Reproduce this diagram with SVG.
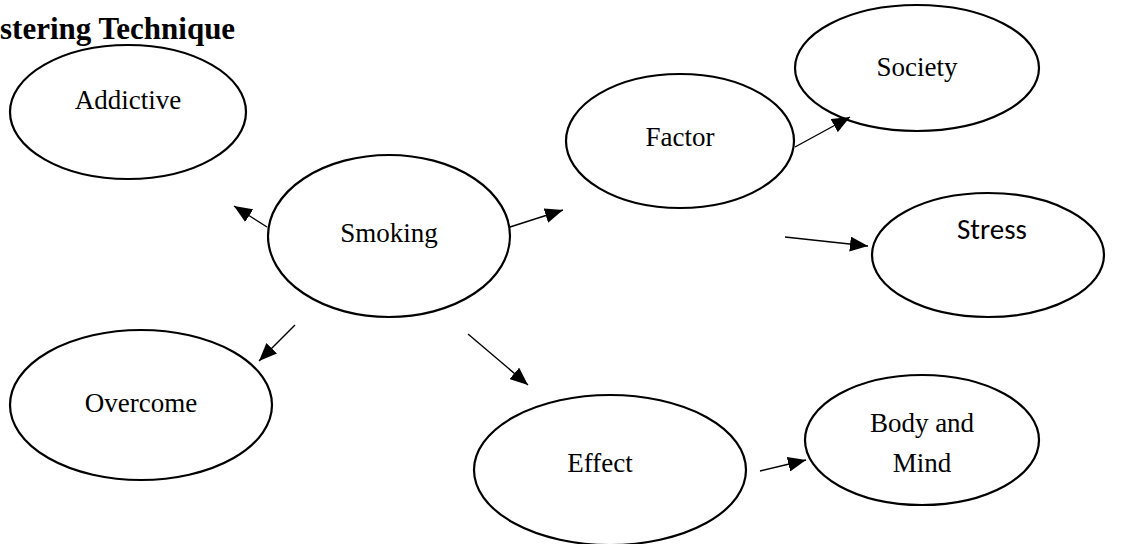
<svg xmlns="http://www.w3.org/2000/svg" width="1122" height="544" viewBox="0 0 1122 544">
<style>
.n ellipse{fill:#fff;stroke:#000;stroke-width:2.2}
.t{font-family:"Liberation Serif","Times New Roman",serif;font-size:27px;fill:#000;text-anchor:middle}
.s{font-family:Carlito,"Liberation Sans",Arial,sans-serif;font-size:29px;fill:#000;text-anchor:middle}
.c line{stroke:#000;stroke-width:1.4;marker-end:url(#ah)}
</style>
<defs>
<marker id="ah" markerUnits="userSpaceOnUse" markerWidth="19" markerHeight="15" refX="18" refY="7.5" orient="auto"><path d="M0,0 L18,7.5 L0,15 z" fill="#000"/></marker>
</defs>
<rect width="1122" height="544" fill="#fff"/>
<text x="0" y="39" style="font-family:'Liberation Serif','Times New Roman',serif;font-size:31px;font-weight:bold">stering Technique</text>
<g id="addictive" class="n"><ellipse cx="128" cy="112" rx="118" ry="67"/><text class="t" x="128" y="109">Addictive</text></g>
<g id="smoking" class="n"><ellipse cx="389" cy="236" rx="121" ry="81"/><text class="t" x="389" y="242">Smoking</text></g>
<g id="factor" class="n"><ellipse cx="680" cy="141" rx="114" ry="67"/><text class="t" x="680" y="146">Factor</text></g>
<g id="society" class="n"><ellipse cx="917" cy="68" rx="122" ry="63"/><text class="t" x="917" y="76">Society</text></g>
<g id="stress" class="n"><ellipse cx="988" cy="255" rx="116" ry="62"/><text class="s" x="992" y="239">Stress</text></g>
<g id="overcome" class="n"><ellipse cx="141" cy="405" rx="131" ry="75"/><text class="t" x="141" y="412">Overcome</text></g>
<g id="effect" class="n"><ellipse cx="610" cy="470" rx="136" ry="75"/><text class="t" x="600" y="472">Effect</text></g>
<g id="bodymind" class="n"><ellipse cx="922" cy="440" rx="117" ry="65"/><text class="t" x="922" y="432">Body and</text><text class="t" x="922" y="472">Mind</text></g>
<g id="connectors" class="c">
<line x1="267" y1="227" x2="234" y2="206"/>
<line x1="510" y1="227" x2="563" y2="210"/>
<line x1="795" y1="147" x2="850" y2="117"/>
<line x1="785" y1="237" x2="868" y2="246"/>
<line x1="295" y1="325" x2="259" y2="361"/>
<line x1="468" y1="334" x2="528" y2="385"/>
<line x1="760" y1="471" x2="806" y2="460"/>
</g>
</svg>
